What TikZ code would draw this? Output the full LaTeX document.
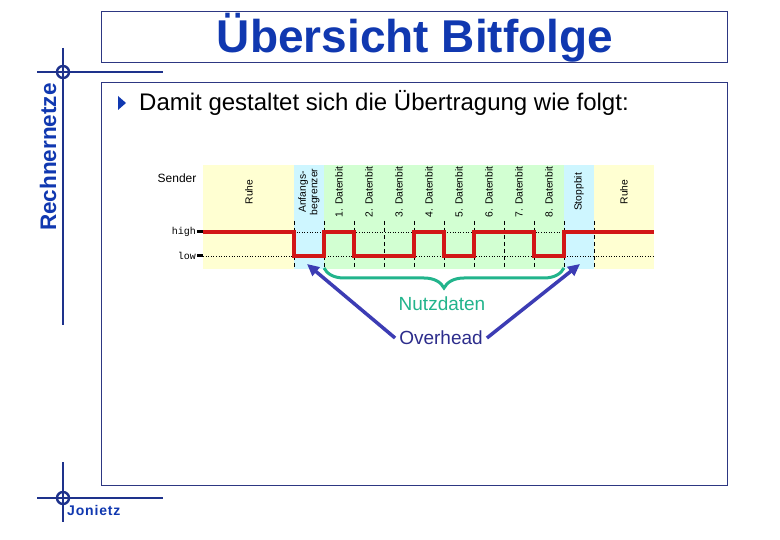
\documentclass[tikz,border=0pt]{standalone}
\usepackage{fontspec}
\setmainfont{Liberation Sans}
\newfontfamily\monofont{Liberation Mono}
\usetikzlibrary{arrows.meta,decorations.pathreplacing}
\definecolor{titleblue}{RGB}{16,56,176}
\definecolor{navy}{RGB}{30,50,140}
\definecolor{boxnavy}{RGB}{45,55,130}
\definecolor{bgyellow}{RGB}{255,255,210}
\definecolor{bgcyan}{RGB}{206,246,255}
\definecolor{bggreen}{RGB}{210,255,210}
\definecolor{sigred}{RGB}{210,22,22}
\definecolor{teal}{RGB}{34,180,140}
\definecolor{ovblue}{RGB}{45,45,140}
\definecolor{arrblue}{RGB}{60,60,180}
\begin{document}
\begin{tikzpicture}[x=1pt,y=-1pt,
  boxline/.style={draw=boxnavy,line width=1pt},
  crossline/.style={draw=navy,line width=2.4pt},
  collabel/.style={rotate=90,font=\fontsize{10.3}{11.5}\selectfont,align=center,inner sep=0pt},
  signal/.style={draw=sigred,line width=3.6pt,line join=miter},
  levelline/.style={draw=black,line width=0.6pt,dotted},
  bitsep/.style={draw=black,line width=0.7pt,dash pattern=on 4pt off 3pt},
  levellabel/.style={font=\monofont\fontsize{10}{12}\selectfont,anchor=east,inner sep=0pt},
  ovarrow/.style={draw=arrblue,line width=3.5pt,-{Triangle[length=12pt,width=11pt]}},
  bigtext/.style={font=\fontsize{19}{22}\selectfont,inner sep=4pt}
]
\useasboundingbox (0,0) rectangle (780,540);
\fill[white] (0,0) rectangle (780,540);

% frames
\draw[boxline] (101,12) rectangle (727,63);
\draw[boxline] (101,83) rectangle (727,485);
\node[font=\bfseries\fontsize{46}{50}\selectfont,text=titleblue] (title) at (415,38) {Übersicht Bitfolge};

% crosshairs
\draw[crossline] (63,48) -- (63,325);
\draw[crossline] (37,72) -- (163,72);
\draw[crossline] (63,72) circle[radius=6pt];
\draw[crossline] (63,462) -- (63,522);
\draw[crossline] (37,498) -- (163,498);
\draw[crossline] (63,498) circle[radius=6pt];
\node[rotate=90,font=\bfseries\fontsize{22.5}{24}\selectfont,text=titleblue] (side) at (48,157) {Rechnernetze};
\node[font=\bfseries\fontsize{14}{16}\selectfont\addfontfeatures{LetterSpace=6},text=titleblue,anchor=west,inner sep=0pt] (author) at (67,510) {Jonietz};

% bullet line
\fill[titleblue] (118,96) -- (118,110) -- (126,103) -- cycle;
\node[font=\fontsize{24}{28}\selectfont,anchor=base west,inner sep=0pt] (intro) at (139,111) {Damit gestaltet sich die Übertragung wie folgt:};

% column backgrounds
\fill[bgyellow] (203,165) rectangle (294,269);
\fill[bgcyan] (294,165) rectangle (324,269);
\fill[bggreen] (324,165) rectangle (564,269);
\fill[bgcyan] (564,165) rectangle (594,269);
\fill[bgyellow] (594,165) rectangle (654,269);

% column labels
\node[collabel] (l0) at (249,192) {Ruhe};
\node[collabel] (l1) at (309,192) {Anfangs-\\begrenzer};
\foreach \i in {1,...,8}{
  \node[collabel] (d\i) at ({324+30*\i-15},192) {\i. Datenbit};
}
\node[collabel] (l9) at (579,192) {Stoppbit};
\node[collabel] (l10) at (624,192) {Ruhe};

\node[font=\fontsize{12}{14}\selectfont,inner sep=0pt] (sender) at (177,178) {Sender};

% level lines
\draw[levelline] (203,232) -- (654,232);
\draw[levelline] (203,256) -- (654,256);
\node[levellabel] (high) at (196,232) {high};
\node[levellabel] (low) at (196,256) {low};
\fill (197,230.5) rectangle (203,233.5);
\fill (197,254.5) rectangle (203,257.5);

% bit separators
\foreach \k in {0,...,10}{
  \draw[bitsep] ({294+30*\k},221) -- ({294+30*\k},269);
}

% signal
\draw[signal] (203,232) -- (294,232) -- (294,256) -- (324,256) -- (324,232) -- (354,232)
  -- (354,256) -- (414,256) -- (414,232) -- (444,232) -- (444,256) -- (474,256)
  -- (474,232) -- (534,232) -- (534,256) -- (564,256) -- (564,232) -- (654,232);

% brace
\draw[draw=teal,line width=3pt,decorate,decoration={brace,amplitude=20pt,aspect=0.5}]
  (564,268) -- (324,268);
\node[bigtext,text=teal] (nutz) at (442,304) {Nutzdaten};
\node[bigtext,text=ovblue] (over) at (441,338) {Overhead};

% overhead arrows
\coordinate (startbit) at (307,264);
\coordinate (stopbit) at (580,264);
\draw[ovarrow] (over.west) -- (startbit);
\draw[ovarrow] (over.east) -- (stopbit);
\end{tikzpicture}
\end{document}
